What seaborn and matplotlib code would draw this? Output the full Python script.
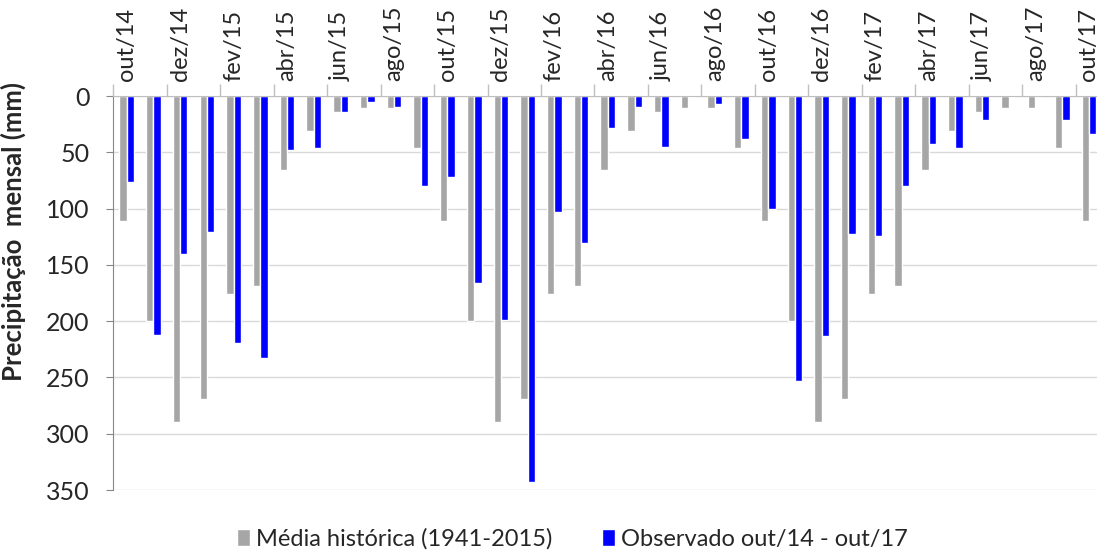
import numpy as np
import pandas as pd
import matplotlib.pyplot as plt
import seaborn as sns

meses = [
    "out/14", "nov/14", "dez/14", "jan/15", "fev/15", "mar/15", "abr/15", "mai/15",
    "jun/15", "jul/15", "ago/15", "set/15", "out/15", "nov/15", "dez/15", "jan/16",
    "fev/16", "mar/16", "abr/16", "mai/16", "jun/16", "jul/16", "ago/16", "set/16",
    "out/16", "nov/16", "dez/16", "jan/17", "fev/17", "mar/17", "abr/17", "mai/17",
    "jun/17", "jul/17", "ago/17", "set/17", "out/17",
]
media_historica = [
    111, 200, 290, 269, 176, 169, 66, 31, 14, 11, 11, 46,
    111, 200, 290, 269, 176, 169, 66, 31, 14, 11, 11, 46,
    111, 200, 290, 269, 176, 169, 66, 31, 14, 11, 11, 46,
    111,
]
observado = [
    76, 212, 140, 121, 219, 233, 48, 46, 14, 5, 10, 80,
    72, 166, 199, 343, 103, 131, 28, 10, 45, 1, 7, 38,
    100, 253, 213, 123, 124, 80, 43, 46, 21, 1, 1, 21,
    34,
]

serie_hist = "Média histórica (1941-2015)"
serie_obs = "Observado out/14 - out/17"

df = pd.DataFrame({
    "mes": meses * 2,
    "mm": media_historica + observado,
    "serie": [serie_hist] * len(meses) + [serie_obs] * len(meses),
})

sns.set_style("white")
plt.rcParams["font.family"] = ["Lato", "DejaVu Sans"]

fig = plt.figure(figsize=(10.97, 5.51), dpi=100)
ax = fig.add_axes([113.3 / 1097, 61 / 551, 989 / 1097, 394 / 551])

sns.barplot(
    data=df, x="mes", y="mm", hue="serie",
    palette={serie_hist: "#A6A6A6", serie_obs: "#0000FF"},
    width=0.55, saturation=1, ax=ax, legend=True,
)

ax.set_ylim(350, 0)
ax.set_xlim(-0.5, len(meses) - 0.5)
ax.set_yticks(np.arange(0, 351, 50))
ax.yaxis.grid(True, color="#D9D9D9", linewidth=1)
ax.set_axisbelow(True)

ax.xaxis.tick_top()
ax.set_xticks(np.arange(0, len(meses), 2))
ax.set_xticklabels(meses[::2], rotation=90, fontsize=17)
ax.set_xticks(np.arange(-0.5, len(meses), 2), minor=True)
ax.tick_params(axis="x", which="major", length=0, pad=11)
ax.tick_params(axis="x", which="minor", length=9, color="#BFBFBF", width=1, top=True)
ax.tick_params(axis="y", which="major", length=5, color="#868686", labelsize=18,
               left=True, pad=12)
ax.set_xlabel("")
ax.set_ylabel("Precipitação  mensal (mm)", fontsize=18.5, fontweight="bold")
ax.yaxis.set_label_coords(-0.088, 0.655)

for side in ["right", "bottom"]:
    ax.spines[side].set_visible(False)
ax.spines["left"].set_color("#868686")
ax.spines["top"].set_color("#BFBFBF")

handles, labels = ax.get_legend_handles_labels()
ax.get_legend().remove()
fig.legend(
    handles, labels, loc="lower center", bbox_to_anchor=(0.522, -0.036), ncol=2,
    frameon=False, fontsize=17, handlelength=0.55, handleheight=0.75,
    handletextpad=0.25, columnspacing=2.1,
)

fig.savefig("out.png", dpi=100)
